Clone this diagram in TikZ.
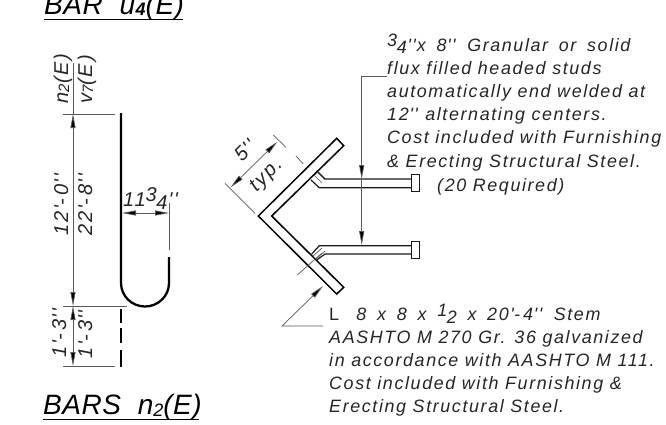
\documentclass[tikz,border=0pt]{standalone}
\usepackage{fontspec}
\setmainfont{Liberation Sans}
\newfontfamily\cadfont[LetterSpace=9,ItalicFont={Liberation Sans Italic}]{Liberation Sans}
\newfontfamily\titlefont[LetterSpace=2,ItalicFont={Liberation Sans Italic}]{Liberation Sans}
\usetikzlibrary{arrows.meta}
\newcommand{\frc}[2]{\raisebox{0.45ex}{#1}\kern-0.02em\raisebox{-0.3ex}{#2}}
\newcommand{\fto}{\char39\kern0.02em}
\newcommand{\inc}{\kern0.05em\char39\kern0.08em\char39\kern0.05em}
\newcommand{\gap}{\hspace{0.6em}}
\tikzset{
  x=1pt,y=-1pt,
  note/.style={anchor=base west,inner sep=0pt,font=\cadfont\itshape\fontsize{17.9}{17.9}\selectfont,text=black!85},
  dimtxt/.style={anchor=base,inner sep=0pt,font=\cadfont\itshape\fontsize{20}{20}\selectfont,text=black!85},
  bigtxt/.style={anchor=base west,inner sep=0pt,font=\titlefont\itshape\fontsize{28}{28}\selectfont},
  thin line/.style={draw=black!65,line width=0.7pt},
  obj/.style={draw=black,line width=1.5pt,line join=miter},
  stud/.style={draw=black!90,line width=1.2pt},
  bar/.style={draw=black,line width=2.3pt},
  tip/.style={-{Triangle[length=14pt,width=5pt,fill=black]}},
  tips/.style={{Triangle[length=14pt,width=5pt,fill=black]}-{Triangle[length=14pt,width=5pt,fill=black]}},
}
\begin{document}
\begin{tikzpicture}
\useasboundingbox (0,0) rectangle (666,424);
\fill[white] (0,0) rectangle (666,424);
% titles
\node[bigtxt] (t1) at (44,14.5) {BAR\ \ u\kern0.5pt\raisebox{-0.1ex}{\fontsize{18}{18}\selectfont\bfseries 4}(E)};
\draw[line width=1.8pt] (44,19.5) -- (183,19.5);
\node[bigtxt] (t2) at (43,414) {BARS\ \ n\raisebox{-0.15ex}{\fontsize{18}{18}\selectfont 2}(E)};
\draw[line width=1.8pt] (43,419.5) -- (199,419.5);
% bar
\draw[bar] (121,113) -- (121,283) arc[start angle=180,end angle=0,x radius=24,y radius=23.5] -- (169,257);
\draw[bar,line cap=butt] (121,309) -- (121,323) (121,328) -- (121,343) (121,350) -- (121,367);
% vertical dimensions
\coordinate (dt) at (73,63);
\coordinate (d1) at (73,114);
\coordinate (d2) at (73,306);
\coordinate (d3) at (73,366);
\draw[thin line] (dt) -- (d1);
\draw[thin line,tips] (d1) -- (d2);
\draw[thin line,tips] (d2) -- (d3);
\draw[thin line] (63,114) -- (115,114);
\draw[thin line] (63,306) -- (127,306);
\draw[thin line] (63,366) -- (115,366);
\node[dimtxt,rotate=90] (n2) at (68,78.5) {n\raisebox{-0.1ex}{\fontsize{15}{15}\selectfont 2}(E)};
\node[dimtxt,rotate=90] (v7) at (92,79.5) {v\raisebox{-0.1ex}{\fontsize{15}{15}\selectfont 7}(E)};
\node[dimtxt,rotate=90] (a1) at (68,204) {12\fto-\,0\inc};
\node[dimtxt,rotate=90] (a2) at (92,204) {22\fto-\,8\inc};
\node[dimtxt,rotate=90] (b1) at (66,332.5) {1\fto-\,3\inc};
\node[dimtxt,rotate=90] (b2) at (92,334) {1\fto-\,3\inc};
% 11 3/4
\coordinate (e1) at (122,213);
\coordinate (e2) at (169,213);
\draw[thin line,tips] (e1) -- (e2);
\draw[thin line] (169,203) -- (169,250);
\node[dimtxt] (w) at (151,206.5) {11\frc{3}{4}\inc};
% angle
\draw[obj] (336.7,138.3) -- (258.3,216) -- (336.7,294) -- (343.7,287.3) -- (271.7,216) -- (343.7,145.7) -- cycle;
% studs
\draw[stud] (316.7,170.7) -- (325,179) -- (411.7,179);
\draw[stud] (311,180) -- (319.3,187.7) -- (411.7,187.7);
\draw[stud] (411.7,174.7) rectangle (419.3,191.7);
\draw[stud] (311.7,254) -- (319.3,245.7) -- (411.7,245.7);
\draw[stud] (316.7,260) -- (325,254) -- (411.7,254);
\draw[stud] (411.7,241.3) rectangle (419.3,258.3);
% welds
\draw[thin line] (314,175) -- (322,183);
\draw[thin line] (317,172) -- (325,180);
\draw[thin line] (313,256) -- (322,248);
\draw[thin line] (316,259) -- (325,251);
% 5 in. dimension
\coordinate (f1) at (230.7,187.3);
\coordinate (f2) at (277.3,141.7);
\draw[thin line,tips] (f1) -- (f2);
\draw[thin line] (225,183.3) -- (255,213.3);
\draw[thin line] (273.3,135) -- (286,147.3);
\draw[thin line] (296,156) -- (303.3,164);
\draw[thin line] (297.3,275) -- (322,253);
\node[dimtxt,rotate=45] (five) at (250,155) {5\inc};
\node[dimtxt,rotate=45] (typ2) at (270,179) {typ.};
% notes
\foreach \nm/\yy/\tx in {
 nb/74/{flux filled headed studs},
 nc/97/{automatically end welded at},
 nd/120/{12\inc\ alternating centers.},
 ne/143/{Cost included with Furnishing},
 nf/167/{\& Erecting Structural Steel.}}
 {\node[note] (\nm) at (387,\yy) {\tx};}
\node[note] (na) at (387,51) {\frc{3}{4}\inc x\gap 8\inc\gap Granular\gap or\gap solid};
\node[note] (ng) at (437,191) {(20 Required)};
\foreach \nm/\yy/\tx in {
 pb/343.5/{AASHTO M 270 Gr. 36 galvanized},
 pc/366.5/{in accordance with AASHTO M 111.},
 pd/389/{Cost included with Furnishing \&},
 pe/412/{Erecting Structural Steel.}}
 {\node[note] (\nm) at (329,\yy) {\tx};}
\node[note] (pa) at (329,320.5) {{\upshape L}\gap\ 8\gap x\gap 8\gap x\gap \frc{1}{2}\gap x\gap 20\fto-\,4\inc\gap Stem};
% leaders
\coordinate (l1) at (387,76);
\coordinate (l2) at (361.7,76);
\coordinate (l3) at (361.7,179);
\coordinate (l4) at (361.7,245);
\draw[thin line] (l1) -- (l2);
\draw[thin line,tip] (l2) -- (l3);
\draw[thin line,tip] (l3) -- (l4);
\coordinate (m1) at (323,326);
\coordinate (m2) at (282,326);
\coordinate (m3) at (323,286);
\draw[thin line,tip] (m1) -- (m2) -- (m3);
\end{tikzpicture}
\end{document}
